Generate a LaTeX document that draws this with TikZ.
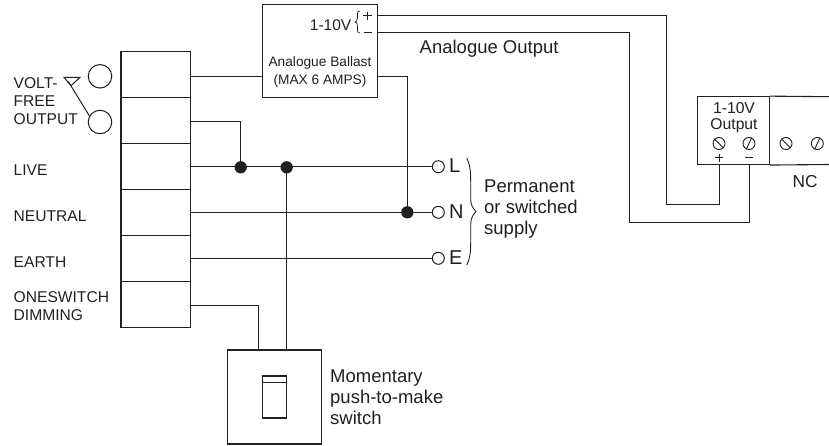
\documentclass[tikz,border=0pt]{standalone}
\usepackage{fontspec}
\setmainfont{Liberation Sans}
\definecolor{ink}{HTML}{231F20}
\tikzset{
  x=1pt,y=-1pt,
  wire/.style={draw=ink,line width=1pt},
  box/.style={draw=ink,line width=1.1pt,inner sep=0pt},
  cell/.style={box,minimum width=69.5pt,minimum height=46pt},
  lbl/.style={text=ink,font=\fontsize{15.6}{17.6}\selectfont,inner sep=0pt,align=left},
  small/.style={text=ink,font=\fontsize{13.7}{17.6}\selectfont,inner sep=0pt,align=center},
  modtxt/.style={text=ink,font=\fontsize{15.7}{16.7}\selectfont,inner sep=0pt,align=center},
  big/.style={text=ink,font=\fontsize{20}{22}\selectfont,inner sep=0pt},
  side/.style={text=ink,font=\fontsize{18.5}{20.8}\selectfont,inner sep=0pt,align=left},
  dot/.style={circle,fill=ink,draw=none,minimum size=12.3pt,inner sep=0pt},
  ring/.style={circle,draw=ink,line width=1pt,fill=white,minimum size=12pt,inner sep=0pt},
  bigring/.style={circle,draw=ink,line width=1pt,fill=white,minimum size=23.5pt,inner sep=0pt},
  screw/.style={circle,draw=ink,line width=0.9pt,fill=white,minimum size=12pt,inner sep=0pt},
  slash/.style={ink,line width=0.9pt},
}
\begin{document}
\begin{tikzpicture}
\useasboundingbox (0,0) rectangle (829,446);
% terminal block
\node[cell] (t1) at (155.7,74.3) {};
\node[cell] (t2) at (155.7,120.7) {};
\node[cell] (t3) at (155.7,166.8) {};
\node[cell] (t4) at (155.7,212.8) {};
\node[cell] (t5) at (155.7,258.8) {};
\node[cell] (t6) at (155.7,304.8) {};
% ballast
\node[box,minimum width=115pt,minimum height=93.5pt] (ballast) at (320,51) {};
% switch plate
\node[box,minimum width=93.3pt,minimum height=94pt] (plate) at (274.4,397) {};
\node[box,minimum width=24.4pt,minimum height=42pt] (rocker) at (274.5,397) {};
\coordinate (rt) at (262.3,382.7);
\coordinate (rtr) at (286.7,382.7);
\draw[wire] (rt) -- (rtr);
% module
\node[box,minimum width=71.6pt,minimum height=67.8pt] (mod) at (733.5,130.6) {};
\coordinate (nctop) at (829,96.7);
\coordinate (ncbot) at (829,164.5);
\draw[box] (mod.north east) -- (nctop);
\draw[box] (mod.south east) -- (ncbot);
% module texts
\node[modtxt,anchor=north] (mt) at (734,102) {1-10V\\Output};
\node[screw] (s1) at (719,143.5) {};
\node[screw] (s2) at (749,143.5) {};
\node[screw] (s3) at (786,143.5) {};
\node[screw] (s4) at (817.3,143.5) {};
\draw[slash] (s1.135) -- (s1.-45);
\draw[slash] (s3.135) -- (s3.-45);
\draw[slash] (s2.65) -- (s2.245);
\draw[slash] (s4.65) -- (s4.245);
\coordinate (pa) at (719,164.5);
\coordinate (ma) at (749.3,164.5);
\draw[ink,line width=1pt] (715,157.7) -- (723,157.7) (719,153.7) -- (719,161.7);
\draw[ink,line width=1pt] (745.3,157.7) -- (753.3,157.7);
\node[text=ink,font=\fontsize{17.3}{19}\selectfont,inner sep=0pt,anchor=base] (nc) at (805,187.7) {NC};
% wires
\coordinate (b1) at (262.5,76.3);
\draw[wire] (b1 -| t1.east) -- (b1);
\coordinate (b2) at (377.5,76.3);
\coordinate (nj) at (407.3,212.3);
\draw[wire] (b2) -| (nj);
\coordinate (lj) at (240.7,167.7);
\draw[wire] (t2.east |- 0,121.5) -| (lj);
\node[ring] (L) at (438.3,166.7) {};
\node[ring] (N) at (438.3,212.3) {};
\node[ring] (E) at (438.3,258.3) {};
\draw[wire] (t3.east |- L) -- (L);
\draw[wire] (t4.east |- N) -- (N);
\draw[wire] (t5.east |- E) -- (E);
\node[dot] (d1) at (240.7,167.3) {};
\node[dot] (d2) at (286.7,167.3) {};
\node[dot] (d3) at (407.3,212.3) {};
\draw[wire] (d2.center) -- (d2.center |- plate.north);
\coordinate (w6) at (258.7,305);
\draw[wire] (t6.east |- w6) -| (w6 |- plate.north);
% analogue outputs
\coordinate (p0) at (377.5,15.7);
\coordinate (m0) at (377.5,32.3);
\draw[wire] (p0) -| (666.9,205) -| (pa);
\draw[wire] (m0) -| (629,222.7) -| (ma);
% ballast text
\node[small,anchor=north] (bt) at (320,56.7) {Analogue Ballast\\(MAX 6 AMPS)};
\node[text=ink,font=\fontsize{15.5}{17}\selectfont,inner sep=0pt,anchor=base east] (v) at (351.5,30.7) {1-10V};
\draw[ink,line width=0.7pt] (360,11) .. controls (356.5,11) and (357.5,15) .. (357.5,18) .. controls (357.5,21) and (356,22) .. (355,22) .. controls (356,22) and (357.5,23) .. (357.5,26) .. controls (357.5,29) and (356.5,33) .. (360,33);
\draw[ink,line width=1pt] (363.3,16) -- (371.5,16) (367.4,12.3) -- (367.4,19.7);
\draw[ink,line width=1pt] (363.5,32.3) -- (371.7,32.3);
% labels
\node[side,anchor=base west] (ao) at (419.5,53.3) {Analogue Output};
\node[lbl,anchor=north west] (vf) at (13.5,77.8) {VOLT-\\FREE\\OUTPUT};
\node[lbl,anchor=base west] (live) at (13.5,175.7) {LIVE};
\node[lbl,anchor=base west] (neut) at (13.5,221.3) {NEUTRAL};
\node[lbl,anchor=base west] (earth) at (13.5,267) {EARTH};
\node[lbl,anchor=north west] (one) at (13.5,291.8) {ONESWITCH\\DIMMING};
\node[side,anchor=north west] (perm) at (484,179.7) {Permanent\\or switched\\supply};
\node[side,anchor=north west] (mom) at (330,369.7) {Momentary\\push-to-make\\switch};
\node[big,anchor=base west] (ll) at (449,172.7) {L};
\node[big,anchor=base west] (ln) at (449,218.3) {N};
\node[big,anchor=base west] (le) at (449,264.3) {E};
% brace
\draw[ink,line width=0.9pt] (466.7,158) .. controls (470,164) and (470.7,172) .. (470.7,182) -- (470.7,200) .. controls (470.7,206) and (474,209) .. (476,211.7) .. controls (474,214) and (470.7,217) .. (470.7,224) -- (470.7,242) .. controls (470.7,252) and (470,259) .. (466.7,265);
% volt-free contact
\node[bigring] (c1) at (100,76.3) {};
\node[bigring] (c2) at (100,122) {};
\draw[ink,line width=1pt] (c2.150) -- (68.3,81.5);
\draw[ink,line width=1pt] (64,77.3) -- (80,77.3) -- (71,85.7) -- cycle;
\end{tikzpicture}
\end{document}
